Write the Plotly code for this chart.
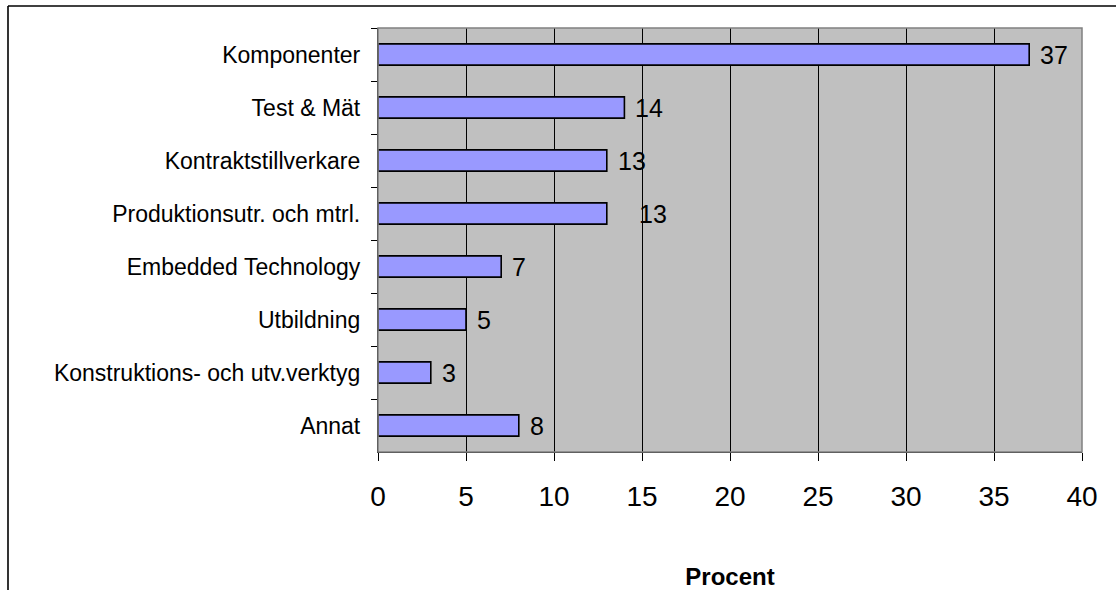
import plotly.graph_objects as go

categories = ["Komponenter", "Test & Mät", "Kontraktstillverkare", "Produktionsutr. och mtrl.",
              "Embedded Technology", "Utbildning", "Konstruktions- och utv.verktyg", "Annat"]
values = [37, 14, 13, 13, 7, 5, 3, 8]
label_shift = [9, 9, 9, 30, 9, 9, 9, 9]
x_ticks = [0, 5, 10, 15, 20, 25, 30, 35, 40]

W, H = 1116, 590
L, R, T, B = 378, 34, 28, 138
pw, ph = W - L - R, H - T - B

fig = go.Figure()
fig.add_trace(go.Bar(
    x=values, y=categories, orientation="h",
    marker=dict(color="#9999FF", line=dict(color="#000000", width=1.6)),
    hoverinfo="x+y",
))

for c, v, s in zip(categories, values, label_shift):
    fig.add_annotation(x=v, y=c, text=str(v), showarrow=False, xanchor="left",
                       yanchor="middle", xshift=s,
                       font=dict(family="Liberation Sans, Arial", size=25, color="#000"))

# plot border (gray) on top/right
fig.add_shape(type="rect", xref="paper", yref="paper", x0=0, x1=1, y0=0, y1=1,
              line=dict(color="#808080", width=1.5), layer="above")
# outer frame lines (left and top)
fx = (8 - L) / pw
fy = 1 + (T - 6) / ph
fig.add_shape(type="line", xref="paper", yref="paper", x0=fx, x1=fx, y0=-1, y1=fy,
              line=dict(color="#000", width=1.6))
fig.add_shape(type="line", xref="paper", yref="paper", x0=fx, x1=1.5, y0=fy, y1=fy,
              line=dict(color="#000", width=1.6))

fig.update_layout(
    width=W, height=H,
    margin=dict(l=L, r=R, t=T, b=B, pad=0, autoexpand=False),
    paper_bgcolor="#FFFFFF", plot_bgcolor="#C0C0C0",
    bargap=0.6, showlegend=False,
    font=dict(family="Liberation Sans, Arial", color="#000"),
)
fig.update_xaxes(
    range=[0, 40], tickvals=x_ticks, ticktext=[str(t) for t in x_ticks],
    showgrid=True, gridcolor="#000000", gridwidth=1,
    showline=True, linecolor="#000", linewidth=1.3,
    ticks="outside", ticklen=8, tickcolor="#000", tickwidth=1.3,
    tickfont=dict(size=28), ticklabelstandoff=11,
    zeroline=False, automargin=False,
    title=dict(text="<b>Procent</b>", font=dict(size=24), standoff=64),
)
fig.update_yaxes(
    autorange="reversed", categoryorder="array", categoryarray=categories,
    showline=True, linecolor="#000", linewidth=1.3,
    ticks="outside", ticklen=6, tickcolor="#000", tickwidth=1.3, tickson="boundaries",
    tickfont=dict(size=23), ticklabelstandoff=12,
    showgrid=False, automargin=False,
)

fig.write_html("out.html", config={"displayModeBar": False},
               post_script="document.body.style.margin='0px';")
